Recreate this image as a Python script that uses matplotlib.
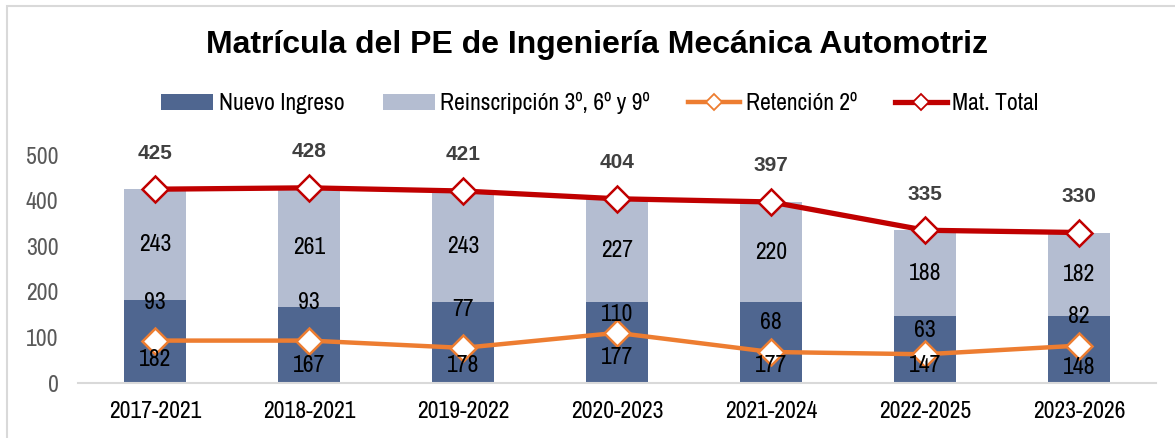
import matplotlib
matplotlib.use("Agg")
from matplotlib import pyplot as plt
from matplotlib.patches import Patch, Rectangle
from matplotlib.lines import Line2D

periods = ["2017-2021", "2018-2021", "2019-2022", "2020-2023", "2021-2024", "2022-2025", "2023-2026"]
nuevo_ingreso = [182, 167, 178, 177, 177, 147, 148]
reinscripcion = [243, 261, 243, 227, 220, 188, 182]
retencion = [93, 93, 77, 110, 68, 63, 82]
mat_total = [425, 428, 421, 404, 397, 335, 330]

# label offsets in pixels (hand placed in the original)
nuevo_dy = [23, 18, 18, 25, 18, 18, 15]
ret_dy = [38, 38, 38, 18, 29, 24, 29]

plt.rcParams['font.family'] = ['Archivo Narrow', 'DejaVu Sans']

c_dark = "#4F6690"
c_light = "#B4BDD1"
c_orange = "#ED7D31"
c_red = "#C00000"
fs = 17

W, H = 1175, 438
fig = plt.figure(figsize=(W / 100, H / 100), dpi=100)

# axes placement in pixels
x0, x1 = 78, 1156
y_zero, y_500 = 383, 155
ymax = 560
px_per = (y_zero - y_500) / 500
top = y_zero - ymax * px_per
ax = fig.add_axes([x0 / W, (H - y_zero) / H, (x1 - x0) / W, (y_zero - top) / H])

x = list(range(len(periods)))
ax.bar(x, nuevo_ingreso, width=0.4, color=c_dark, zorder=2)
ax.bar(x, reinscripcion, width=0.4, bottom=nuevo_ingreso, color=c_light, zorder=2)
ax.plot(x, retencion, color=c_orange, lw=3.2, marker="D", ms=13,
        mfc="white", mec=c_orange, mew=1.8, zorder=4)
ax.plot(x, mat_total, color=c_red, lw=3.8, marker="D", ms=13,
        mfc="white", mec=c_red, mew=1.8, zorder=5)

for i in x:
    ax.annotate(str(mat_total[i]), (i, mat_total[i]), xytext=(0, 26), textcoords="offset points",
                ha="center", va="center", fontsize=15, fontweight="bold", color="#404040",
                family=["Liberation Sans", "DejaVu Sans"], zorder=6)
    ax.text(i, nuevo_ingreso[i] + reinscripcion[i] / 2, str(reinscripcion[i]),
            ha="center", va="center", fontsize=fs, color="black", zorder=6)
    ax.annotate(str(nuevo_ingreso[i]), (i, 0), xytext=(0, nuevo_dy[i] * 0.72), textcoords="offset points",
                ha="center", va="center", fontsize=fs, color="black", zorder=6)
    ax.annotate(str(retencion[i]), (i, retencion[i]), xytext=(0, ret_dy[i] * 0.72), textcoords="offset points",
                ha="center", va="center", fontsize=fs, color="black", zorder=6)

ax.set_xlim(-0.5, 6.5)
ax.set_ylim(0, ymax)
ax.set_yticks([0, 100, 200, 300, 400, 500])
ax.set_xticks(x)
ax.set_xticklabels(periods)
ax.tick_params(axis="y", length=0, labelsize=fs, labelcolor="#595959", pad=14)
ax.tick_params(axis="x", length=0, labelsize=fs, labelcolor="black", pad=13)
for s in ["top", "right", "left"]:
    ax.spines[s].set_visible(False)
ax.spines["bottom"].set_color("#D9D9D9")
ax.spines["bottom"].set_linewidth(1.5)

fig.text(597 / W, 1 - 45 / H, "Matrícula del PE de Ingeniería Mecánica Automotriz",
         ha="center", va="center", fontsize=23, fontweight="bold",
         family=["Liberation Sans", "DejaVu Sans"])

handles = [
    Patch(facecolor=c_dark),
    Patch(facecolor=c_light),
    Line2D([], [], color=c_orange, lw=3.2, marker="D", ms=8, mfc="white", mec=c_orange, mew=1.3),
    Line2D([], [], color=c_red, lw=3.8, marker="D", ms=8, mfc="white", mec=c_red, mew=1.3),
]
labels = ["Nuevo Ingreso", "Reinscripción 3º, 6º y 9º", "Retención 2º", "Mat. Total"]
fig.legend(handles, labels, loc="center", bbox_to_anchor=(600 / W, 1 - 103 / H), ncol=4,
           frameon=False, fontsize=fs, handlelength=2.2, handletextpad=0.25, columnspacing=1.6)

# light grey chart border
fig.add_artist(Rectangle((7 / W, -0.1), 1.2, 1.1 - 6 / H, transform=fig.transFigure,
                         fill=False, edgecolor="#D9D9D9", lw=1.5))

fig.savefig("out.png", dpi=100)
